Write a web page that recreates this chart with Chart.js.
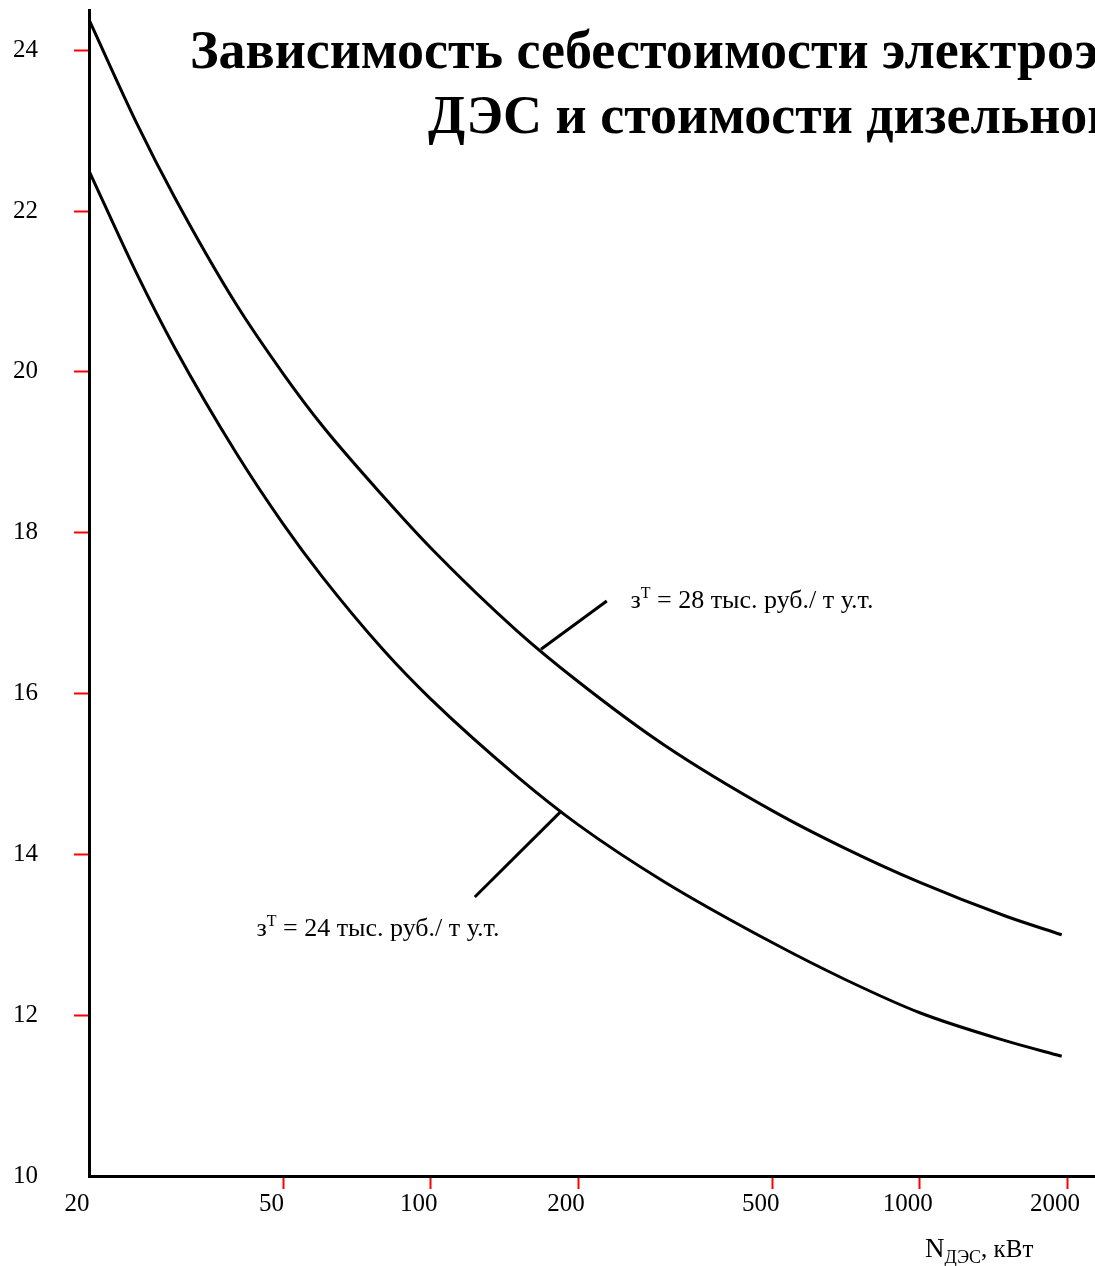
<!DOCTYPE html>
<html>
<head>
<meta charset="utf-8">
<script src="https://cdn.jsdelivr.net/npm/chart.js@4/dist/chart.umd.min.js"></script>
<style>
  html, body { margin: 0; padding: 0; background: #ffffff; overflow: hidden; }
  #wrap { width: 1095px; height: 1266px; }
</style>
</head>
<body>
<div id="wrap"><canvas id="c" width="1095" height="1266"></canvas></div>
<script>
// ---- data ----
const powerKW = [20, 25, 30, 40, 50, 60, 80, 100, 150, 200, 300, 500, 700, 1000, 1500, 1950];
const cost28 = [24.38, 23.10, 22.16, 20.84, 19.97, 19.33, 18.45, 17.81, 16.78, 16.15, 15.36, 14.54, 14.08, 13.65, 13.23, 13.00];
const cost24 = [22.50, 21.23, 20.29, 18.99, 18.10, 17.45, 16.54, 15.93, 14.97, 14.37, 13.66, 12.90, 12.45, 12.03, 11.68, 11.49];
const xTicks = [20, 50, 100, 200, 500, 1000, 2000];
const yTicks = [10, 12, 14, 16, 18, 20, 22, 24];
const titleLines = ["Зависимость себестоимости электроэнергии от мощности", "ДЭС и стоимости дизельного топлива"];
const seriesLabels = ["з^Т = 28 тыс. руб./ т у.т.", "з^Т = 24 тыс. руб./ т у.т."];
// leader lines: [anchorN, anchorValue, endN, endValue]; label position: [N, value]
const leader28 = [168, 16.55, 229, 17.15];
const leader24 = [185, 14.54, 123, 13.47];
const labelPos28 = [256, 17.06];
const labelPos24 = [44, 12.99];

const SERIF = "'Liberation Serif', 'Times New Roman', serif";

function drawSupLabel(ctx, x, y, text, size) {
  const parts = text.split("^");
  const base = parts[0];
  const sup = parts[1].charAt(0);
  const rest = parts[1].slice(1);
  ctx.textAlign = "left";
  ctx.textBaseline = "alphabetic";
  ctx.font = size + "px " + SERIF;
  ctx.fillText(base, x, y);
  let cx = x + ctx.measureText(base).width;
  ctx.font = Math.round(size * 0.62) + "px " + SERIF;
  ctx.fillText(sup, cx, y - size * 0.38);
  cx += ctx.measureText(sup).width;
  ctx.font = size + "px " + SERIF;
  ctx.fillText(rest, cx, y);
}

const overlay = {
  id: "overlay",
  afterDraw(chart) {
    const ctx = chart.ctx;
    const xs = chart.scales.x, ys = chart.scales.y;
    ctx.save();
    ctx.fillStyle = "#000";
    ctx.strokeStyle = "#000";
    // title
    ctx.font = "bold 54px " + SERIF;
    ctx.textAlign = "left";
    ctx.textBaseline = "alphabetic";
    ctx.fillText(titleLines[0], 190, 68);
    ctx.fillText(titleLines[1], 428, 133);
    // leader lines
    ctx.lineWidth = 3;
    [leader28, leader24].forEach(l => {
      ctx.beginPath();
      ctx.moveTo(xs.getPixelForValue(l[0]), ys.getPixelForValue(l[1]));
      ctx.lineTo(xs.getPixelForValue(l[2]), ys.getPixelForValue(l[3]));
      ctx.stroke();
    });
    // series labels
    drawSupLabel(ctx, xs.getPixelForValue(labelPos28[0]), ys.getPixelForValue(labelPos28[1]), seriesLabels[0], 26);
    drawSupLabel(ctx, xs.getPixelForValue(labelPos24[0]), ys.getPixelForValue(labelPos24[1]), seriesLabels[1], 26);
    // x axis title  N_ДЭС, кВт
    const ax = 925, ay = 1257;
    ctx.font = "27px " + SERIF;
    ctx.fillText("N", ax, ay);
    let cx = ax + ctx.measureText("N").width;
    ctx.font = "18px " + SERIF;
    ctx.fillText("ДЭС", cx, ay + 6);
    cx += ctx.measureText("ДЭС").width;
    ctx.font = "25px " + SERIF;
    ctx.fillText(", кВт", cx, ay);
    ctx.restore();
  }
};

new Chart(document.getElementById("c"), {
  type: "line",
  data: {
    datasets: [
      {
        label: seriesLabels[0],
        data: powerKW.map((n, i) => ({ x: n, y: cost28[i] })),
        borderColor: "#000",
        borderWidth: 3,
        pointRadius: 0,
        cubicInterpolationMode: "monotone",
        fill: false
      },
      {
        label: seriesLabels[1],
        data: powerKW.map((n, i) => ({ x: n, y: cost24[i] })),
        borderColor: "#000",
        borderWidth: 3,
        pointRadius: 0,
        cubicInterpolationMode: "monotone",
        fill: false
      }
    ]
  },
  options: {
    responsive: false,
    animation: false,
    layout: { padding: { top: 10, left: 13, right: 0, bottom: 0 } },
    plugins: {
      legend: { display: false },
      title: { display: false },
      tooltip: { enabled: false }
    },
    scales: {
      x: {
        type: "logarithmic",
        min: 20,
        max: 2281,
        afterBuildTicks: s => { s.ticks = xTicks.map(v => ({ value: v })); },
        afterFit: s => { s.height = 90; },
        border: { display: true, color: "#000", width: 3 },
        grid: {
          drawOnChartArea: false,
          drawTicks: true,
          tickLength: 13,
          tickWidth: 2,
          tickColor: c => (c.index === 0 ? "rgba(0,0,0,0)" : "#ff0000")
        },
        ticks: {
          autoSkip: false,
          maxRotation: 0,
          padding: 0,
          labelOffset: -12,
          color: "#000",
          font: { family: SERIF, size: 25 },
          callback: v => String(v)
        }
      },
      y: {
        type: "linear",
        min: 10,
        max: 24.5,
        afterBuildTicks: s => { s.ticks = yTicks.map(v => ({ value: v })); },
        afterFit: s => { s.width = 76; },
        border: { display: true, color: "#000", width: 3 },
        grid: {
          drawOnChartArea: false,
          drawTicks: true,
          tickLength: 15,
          tickWidth: 2,
          tickColor: c => (c.index === 0 ? "rgba(0,0,0,0)" : "#ff0000")
        },
        ticks: {
          padding: 0,
          crossAlign: "far",
          color: "#000",
          font: { family: SERIF, size: 25, lineHeight: 0.8 },
          callback: v => String(v)
        }
      }
    }
  },
  plugins: [overlay]
});
</script>
</body>
</html>
